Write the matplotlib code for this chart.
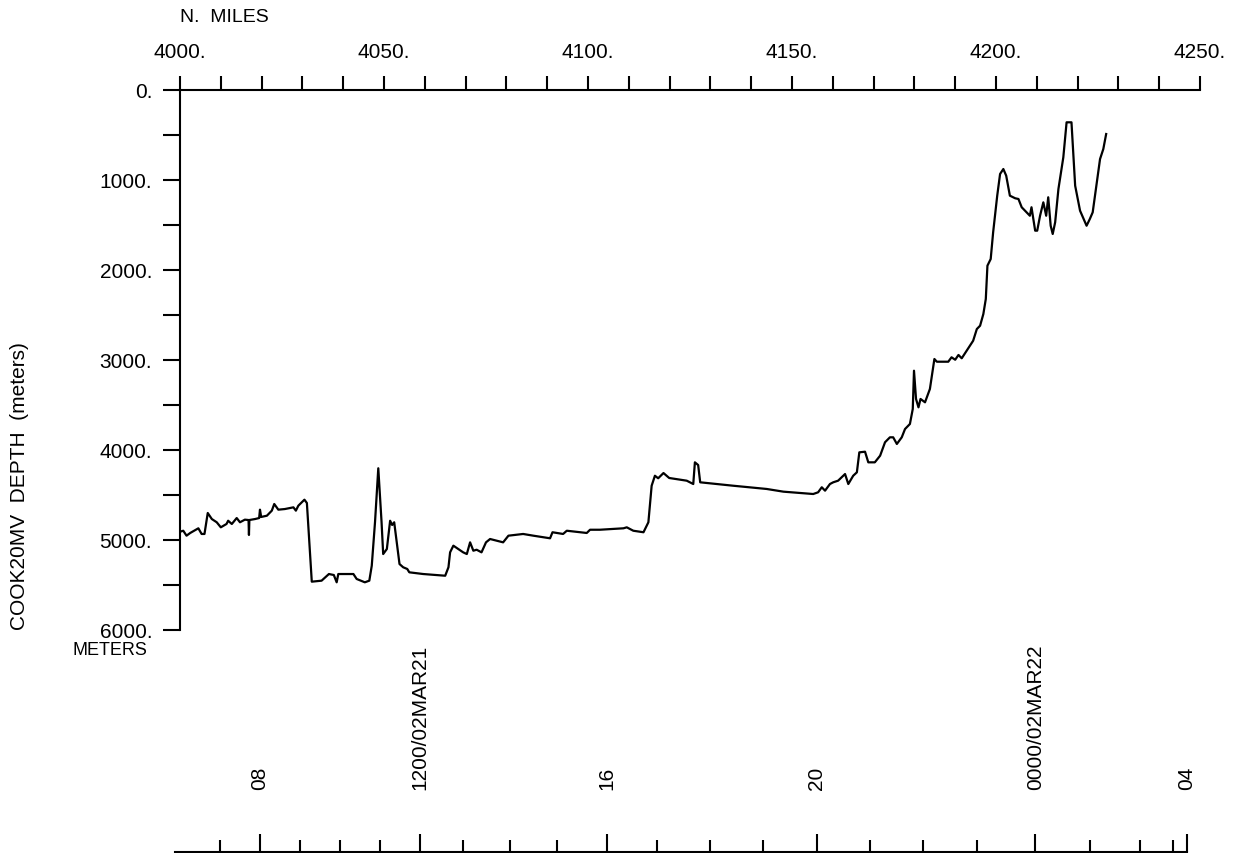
import matplotlib
matplotlib.use('Agg')
import matplotlib.pyplot as plt
from matplotlib.ticker import MultipleLocator

plt.rcParams['font.family'] = ['Liberation Sans', 'DejaVu Sans']

# along-track distance (nautical miles) and bottom depth (meters)
miles = [4000.0, 4000.8, 4001.6, 4002.5, 4004.5, 4005.3, 4006.0, 4006.8, 4007.8, 4009.0,
         4010.0, 4011.4, 4011.8, 4012.7, 4013.9, 4014.7, 4015.9, 4016.8, 4016.9, 4017.0,
         4018.4, 4019.4, 4019.6, 4019.9, 4021.3, 4022.5, 4023.1, 4024.1, 4025.7, 4027.8,
         4028.4, 4029.0, 4030.5, 4031.1, 4032.3, 4034.7, 4036.5, 4037.7, 4038.4, 4038.8,
         4042.5, 4043.3, 4045.3, 4046.4, 4047.0, 4047.8, 4048.6, 4049.4, 4049.8, 4050.7,
         4051.5, 4052.0, 4052.5, 4053.8, 4054.7, 4055.7, 4056.2, 4059.6, 4065.0, 4065.8,
         4066.2, 4067.0, 4069.4, 4070.3, 4071.1, 4071.9, 4072.7, 4073.9, 4075.0, 4076.0,
         4079.2, 4080.5, 4084.1, 4086.6, 4090.7, 4091.3, 4093.9, 4094.8, 4099.7, 4100.5,
         4102.9, 4108.7, 4109.5, 4111.1, 4113.6, 4114.8, 4115.6, 4116.4, 4117.2, 4118.5,
         4119.9, 4124.2, 4125.8, 4126.2, 4127.0, 4127.5, 4135.6, 4143.8, 4147.9, 4155.2,
         4156.4, 4157.3, 4158.1, 4159.3, 4160.1, 4161.3, 4163.0, 4163.8, 4165.0, 4165.9,
         4166.5, 4167.9, 4168.7, 4170.3, 4171.6, 4172.8, 4174.0, 4174.8, 4175.7, 4176.9,
         4177.7, 4178.9, 4179.6, 4179.9, 4180.4, 4181.0, 4181.5, 4182.6, 4183.8, 4184.9,
         4185.5, 4188.3, 4189.1, 4190.0, 4190.8, 4191.6, 4192.8, 4194.4, 4195.3, 4196.1,
         4196.9, 4197.5, 4197.9, 4198.7, 4199.3, 4200.3, 4201.0, 4201.8, 4202.5, 4203.4,
         4204.7, 4205.5, 4206.3, 4207.5, 4208.3, 4208.7, 4209.6, 4210.1, 4210.8, 4211.6,
         4212.3, 4212.8, 4213.4, 4213.9, 4214.5, 4215.3, 4216.5, 4217.3, 4218.5, 4219.4,
         4220.6, 4222.2, 4223.0, 4223.7, 4224.7, 4225.5, 4226.3, 4227.0]
depth = [4908, 4897, 4952, 4922, 4870, 4933, 4933, 4700, 4767, 4803,
         4859, 4822, 4786, 4822, 4756, 4803, 4774, 4778, 4944, 4778,
         4767, 4756, 4663, 4744, 4730, 4674, 4600, 4663, 4656, 4637,
         4674, 4619, 4552, 4589, 5463, 5452, 5378, 5389, 5470, 5378,
         5378, 5433, 5470, 5452, 5286, 4800, 4203, 4800, 5156, 5100,
         4786, 4833, 4803, 5267, 5303, 5322, 5359, 5378, 5397, 5303,
         5137, 5063, 5137, 5156, 5026, 5119, 5108, 5137, 5026, 4989,
         5026, 4952, 4933, 4952, 4981, 4914, 4933, 4897, 4922, 4886,
         4886, 4870, 4859, 4897, 4914, 4803, 4397, 4286, 4314, 4256,
         4311, 4341, 4378, 4137, 4167, 4359, 4397, 4433, 4463, 4489,
         4470, 4414, 4452, 4378, 4359, 4341, 4267, 4378, 4286, 4248,
         4026, 4019, 4137, 4137, 4063, 3914, 3859, 3859, 3933, 3859,
         3767, 3711, 3544, 3119, 3433, 3526, 3433, 3470, 3322, 2989,
         3019, 3019, 2970, 2997, 2944, 2981, 2897, 2786, 2656, 2619,
         2489, 2322, 1952, 1878, 1581, 1174, 933, 878, 952, 1174,
         1203, 1211, 1303, 1359, 1397, 1303, 1563, 1563, 1397, 1248,
         1397, 1192, 1508, 1600, 1470, 1100, 748, 359, 359, 1063,
         1341, 1508, 1433, 1359, 1026, 767, 656, 489]

mile_ticks = [4000, 4050, 4100, 4150, 4200, 4250]
mile_labels = ['4000.', '4050.', '4100.', '4150.', '4200.', '4250.']
depth_ticks = [0, 1000, 2000, 3000, 4000, 5000, 6000]
depth_labels = ['0.', '1000.', '2000.', '3000.', '4000.', '5000.', '6000.']

# ship position (miles) at each hour, 07 through 04
hour_miles = [4009.8, 4019.6, 4029.4, 4039.2, 4049.0, 4058.8, 4069.4, 4080.9, 4092.4,
              4104.7, 4116.9, 4129.9, 4142.9, 4156.1, 4169.1, 4182.1, 4195.3, 4209.6,
              4223.0, 4235.3, 4243.4, 4246.8]
hour_labels = ['', '08', '', '', '', '1200/02MAR21', '', '', '', '16', '', '', '',
               '20', '', '', '', '0000/02MAR22', '', '', '', '04']

W, H = 1235, 854
fig = plt.figure(figsize=(W / 100, H / 100), dpi=100)

ax = fig.add_axes([180 / W, 1 - 631 / H, 1020 / W, 540 / H])
ax.plot(miles, depth, color='black', lw=1.6)
ax.set_xlim(4000, 4250)
ax.set_ylim(6000, 0)
ax.spines['right'].set_visible(False)
ax.spines['bottom'].set_visible(False)
ax.spines['left'].set_linewidth(1.5)
ax.spines['top'].set_linewidth(1.5)

ax.xaxis.tick_top()
ax.set_xticks(mile_ticks, mile_labels)
ax.xaxis.set_minor_locator(MultipleLocator(10))
ax.tick_params(axis='x', which='both', direction='out', length=10, width=1.5,
               pad=11, labelsize=15)
ax.set_yticks(depth_ticks, depth_labels)
ax.yaxis.set_minor_locator(MultipleLocator(500))
ax.tick_params(axis='y', which='both', direction='out', length=12, width=1.5,
               pad=8, labelsize=15)

fig.text(180 / W, 1 - 17 / H, 'N.  MILES', ha='left', va='center', fontsize=14)
fig.text(147 / W, 1 - 651 / H, 'METERS', ha='right', va='center', fontsize=13)
fig.text(20 / W, 1 - 630 / H, 'COOK20MV  DEPTH  (meters)', rotation=90,
         ha='center', va='bottom', fontsize=15)

# time axis along the bottom
major_pos = [m for m, l in zip(hour_miles, hour_labels) if l]
major_lab = [l for l in hour_labels if l]
minor_pos = [m for m, l in zip(hour_miles, hour_labels) if not l]

ax2 = fig.add_axes([180 / W, 1 / H, 1020 / W, 0.05])
ax2.set_xlim(4000, 4250)
ax2.patch.set_visible(False)
ax2.yaxis.set_visible(False)
for s in ['top', 'left', 'right']:
    ax2.spines[s].set_visible(False)
ax2.spines['bottom'].set_linewidth(1.5)
ax2.spines['bottom'].set_bounds(3998.8, hour_miles[-1])
ax2.set_xticks(major_pos, major_lab)
ax2.set_xticks(minor_pos, minor=True)
ax2.tick_params(axis='x', which='major', direction='in', length=13, width=1.5,
                pad=-45, labelsize=15, labelrotation=90)
ax2.tick_params(axis='x', which='minor', direction='in', length=9, width=1.5)
plt.setp(ax2.get_xticklabels(), va='bottom')

fig.savefig('out.png', dpi=100)
